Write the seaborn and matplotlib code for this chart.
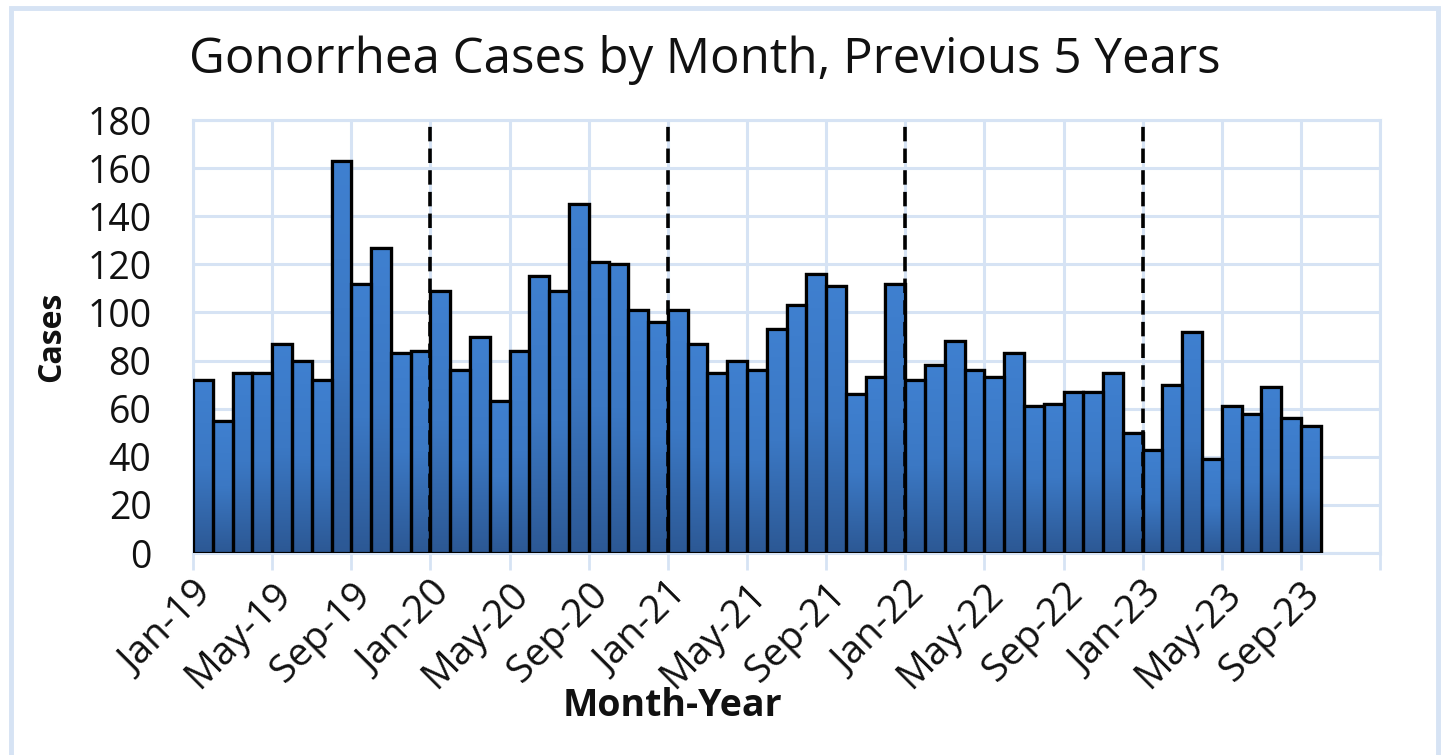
import matplotlib
matplotlib.use("Agg")
import matplotlib.pyplot as plt
import matplotlib.patches as mpatches
import numpy as np
import pandas as pd
import seaborn as sns

# monthly gonorrhea cases, Jan-19 .. Sep-23
cases_2019 = [72, 55, 75, 75, 87, 80, 72, 163, 112, 127, 83, 84]
cases_2020 = [109, 76, 90, 63, 84, 115, 109, 145, 121, 120, 101, 96]
cases_2021 = [101, 87, 75, 80, 76, 93, 103, 116, 111, 66, 73, 112]
cases_2022 = [72, 78, 88, 76, 73, 83, 61, 62, 67, 67, 75, 50]
cases_2023 = [43, 70, 92, 39, 61, 58, 69, 56, 53]

months = ["Jan", "Feb", "Mar", "Apr", "May", "Jun",
          "Jul", "Aug", "Sep", "Oct", "Nov", "Dec"]
years = ["19", "20", "21", "22", "23"]
year_breaks = ["Jan-20", "Jan-21", "Jan-22", "Jan-23"]

values = cases_2019 + cases_2020 + cases_2021 + cases_2022 + cases_2023
labels = [m + "-" + y for y in years for m in months][:len(values)]
df = pd.DataFrame({"month": labels, "cases": values})

sns.set_style("white")
plt.rcParams["font.family"] = ["Open Sans", "DejaVu Sans"]
plt.rcParams["text.color"] = "#111111"
plt.rcParams["axes.labelcolor"] = "#111111"
plt.rcParams["xtick.labelcolor"] = "#111111"
plt.rcParams["ytick.labelcolor"] = "#111111"

grid_col = "#d6e3f4"
fig = plt.figure(figsize=(14.44, 7.55), dpi=100)
ax = fig.add_axes([0.1337, 0.2675, 0.822, 0.5735])

sns.barplot(data=df, x="month", y="cases", color="#3a74c0", width=1.0,
            edgecolor="black", linewidth=2.3, saturation=1, ax=ax, zorder=3)

# vertical gradient on every bar
grad = np.linspace(0, 1, 256).reshape(-1, 1)
cmap = matplotlib.colors.LinearSegmentedColormap.from_list(
    "bar", ["#2c5894", "#3b78c4", "#3f80d0"])
for p in ax.patches:
    x0, y0 = p.get_x(), p.get_y()
    w, h = p.get_width(), p.get_height()
    im = ax.imshow(grad, cmap=cmap, aspect="auto", origin="lower",
                   extent=[x0, x0 + w, y0, y0 + h], zorder=3.5)
    im.set_clip_path(p)
    ax.add_patch(mpatches.Rectangle((x0, y0), w, h, fill=False,
                                    edgecolor="black", linewidth=2.3, zorder=4))

n_span = 60
ax.set_xlim(-0.5, n_span - 0.5)
ax.set_ylim(0, 180)
ax.set_yticks(range(0, 181, 20))
tick_pos = np.arange(0, n_span + 1, 4) - 0.5
tick_lab = [labels[i] if i < len(labels) else "" for i in range(0, n_span + 1, 4)]
ax.set_xticks(tick_pos)
ax.set_xticklabels(tick_lab, rotation=45, ha="right", rotation_mode="anchor",
                   fontsize=28)
ax.tick_params(axis="y", labelsize=27, length=0, pad=30)
ax.tick_params(axis="x", length=12, width=2, color=grid_col, pad=4, bottom=True)
ax.grid(True, color=grid_col, linewidth=2.2, zorder=0)
ax.set_axisbelow(True)
for s in ax.spines.values():
    s.set_color(grid_col)
    s.set_linewidth(2.2)

for lab in year_breaks:
    xb = labels.index(lab) - 0.5
    ax.axvline(xb, ymin=0, ymax=1.0, color="black", linestyle=(0, (4, 2)),
               linewidth=2.6, zorder=5)

ax.set_xlabel("Month-Year", fontsize=27, fontweight="bold")
ax.xaxis.set_label_coords(0.404, -0.31)
ax.set_ylabel("Cases", fontsize=23, fontweight="bold")
ax.yaxis.set_label_coords(-0.105, 0.5)

fig.text(0.488, 0.921, "Gonorrhea Cases by Month, Previous 5 Years",
         ha="center", va="center", fontsize=35.5)

# outer chart frame
fig.add_artist(mpatches.Rectangle((0.0075, -0.01), 0.988, 1.0, transform=fig.transFigure,
                                  fill=False, edgecolor=grid_col, linewidth=3.5))

fig.savefig("out.png", dpi=100)
